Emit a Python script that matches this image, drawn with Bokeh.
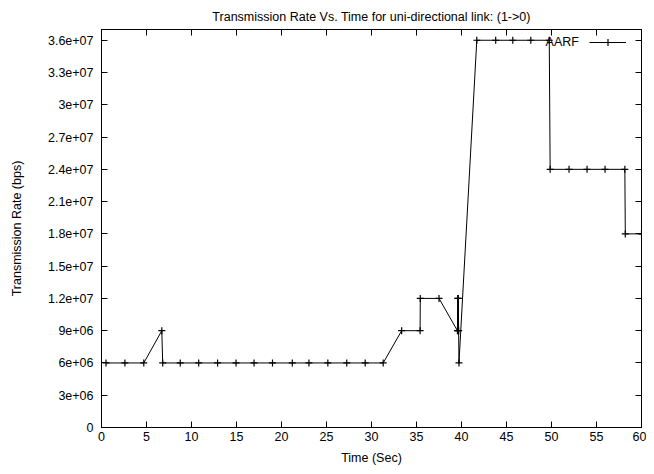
from bokeh.plotting import figure
from bokeh.models import (LinearAxis, FixedTicker, Range1d, Legend, LegendItem, Label)
from bokeh.embed import file_html
from bokeh.resources import INLINE

# ---- data ----
time_sec = [0.5, 2.6, 4.7, 6.7, 6.8, 8.75, 10.8, 12.9, 14.95, 16.95, 19.0, 21.2,
            23.05, 25.15, 27.25, 29.3, 31.3, 33.35, 35.4, 35.42, 37.5, 39.55,
            39.58, 39.62, 39.65, 39.68, 39.72, 41.7, 43.8, 45.7, 47.7, 49.75,
            49.85, 51.95, 53.95, 55.95, 58.15, 58.2, 60.0]
rate_bps = [6e6, 6e6, 6e6, 9e6, 6e6, 6e6, 6e6, 6e6, 6e6, 6e6, 6e6, 6e6,
            6e6, 6e6, 6e6, 6e6, 6e6, 9e6, 9e6, 12e6, 12e6, 9e6,
            12e6, 9e6, 12e6, 9e6, 6e6, 36e6, 36e6, 36e6, 36e6, 36e6,
            24e6, 24e6, 24e6, 24e6, 24e6, 18e6, 18e6]

x_ticks = [0, 5, 10, 15, 20, 25, 30, 35, 40, 45, 50, 55, 60]
y_ticks = [0, 3000000, 6000000, 9000000, 12000000, 15000000, 18000000, 21000000,
           24000000, 27000000, 30000000, 33000000, 36000000]
y_tick_labels = ["0", "3e+06", "6e+06", "9e+06", "1.2e+07", "1.5e+07", "1.8e+07",
                 "2.1e+07", "2.4e+07", "2.7e+07", "3e+07", "3.3e+07", "3.6e+07"]
series_name = "AARF"
title_text = "Transmission Rate Vs. Time for uni-directional link: (1->0)"

FONT = "Liberation Sans"
FS = "12.5px"

p = figure(width=646, height=472, output_backend="svg", toolbar_location=None,
           x_range=Range1d(0, 60), y_range=Range1d(0, 3.7e7),
           min_border_left=101, min_border_right=5, min_border_top=29,
           min_border_bottom=45, background_fill_color="white",
           border_fill_color="white")

p.title.text = title_text
p.title.align = "center"
p.title.text_font = FONT
p.title.text_font_size = FS
p.title.text_font_style = "normal"
p.title.text_color = "black"
p.title.standoff = 12

p.grid.visible = False
p.outline_line_color = "black"
p.outline_line_width = 1
p.outline_line_alpha = 1

def style_axis(ax, labels=True):
    ax.major_tick_in = 6
    ax.major_tick_out = 0
    ax.minor_tick_line_color = None
    ax.major_tick_line_color = "black"
    ax.axis_line_color = "black"
    ax.major_label_text_font = FONT
    ax.major_label_text_font_size = FS if labels else "0px"
    ax.major_label_text_color = "black"
    ax.axis_label_text_font = FONT
    ax.axis_label_text_font_size = FS
    ax.axis_label_text_font_style = "normal"
    ax.axis_label_text_color = "black"

xa = p.xaxis[0]
ya = p.yaxis[0]
xa.ticker = FixedTicker(ticks=x_ticks)
ya.ticker = FixedTicker(ticks=y_ticks)
ya.major_label_overrides = {t: s for t, s in zip(y_ticks, y_tick_labels)}
style_axis(xa)
style_axis(ya)
xa.axis_label = "Time (Sec)"
ya.axis_label = "Transmission Rate (bps)"
xa.major_label_standoff = 4
xa.axis_label_standoff = 7
ya.major_label_standoff = 8
ya.axis_label_standoff = 21

top_ax = LinearAxis(ticker=FixedTicker(ticks=x_ticks))
right_ax = LinearAxis(ticker=FixedTicker(ticks=y_ticks))
for ax in (top_ax, right_ax):
    style_axis(ax, labels=False)
    ax.major_label_standoff = 0
    ax.major_label_text_alpha = 0
p.add_layout(top_ax, "above")
p.add_layout(right_ax, "right")

ln = p.line(time_sec, rate_bps, line_color="black", line_width=1)
mk = p.scatter(time_sec, rate_bps, marker="cross", size=7, line_color="black",
               line_width=1.2)

legend = Legend(items=[LegendItem(label=" ", renderers=[ln, mk])],
                location=(488, 376), glyph_width=37, glyph_height=18,
                label_height=18, label_width=1, label_standoff=0,
                padding=0, margin=0, spacing=0,
                border_line_alpha=0, background_fill_alpha=0,
                label_text_font=FONT, label_text_font_size=FS)
p.add_layout(legend)

p.add_layout(Label(x=53.05, y=3.582e7, text=series_name, text_align="right",
                   text_baseline="middle", text_font=FONT, text_font_size=FS,
                   text_color="black"))

open("out.html", "w").write(file_html(p, INLINE))
